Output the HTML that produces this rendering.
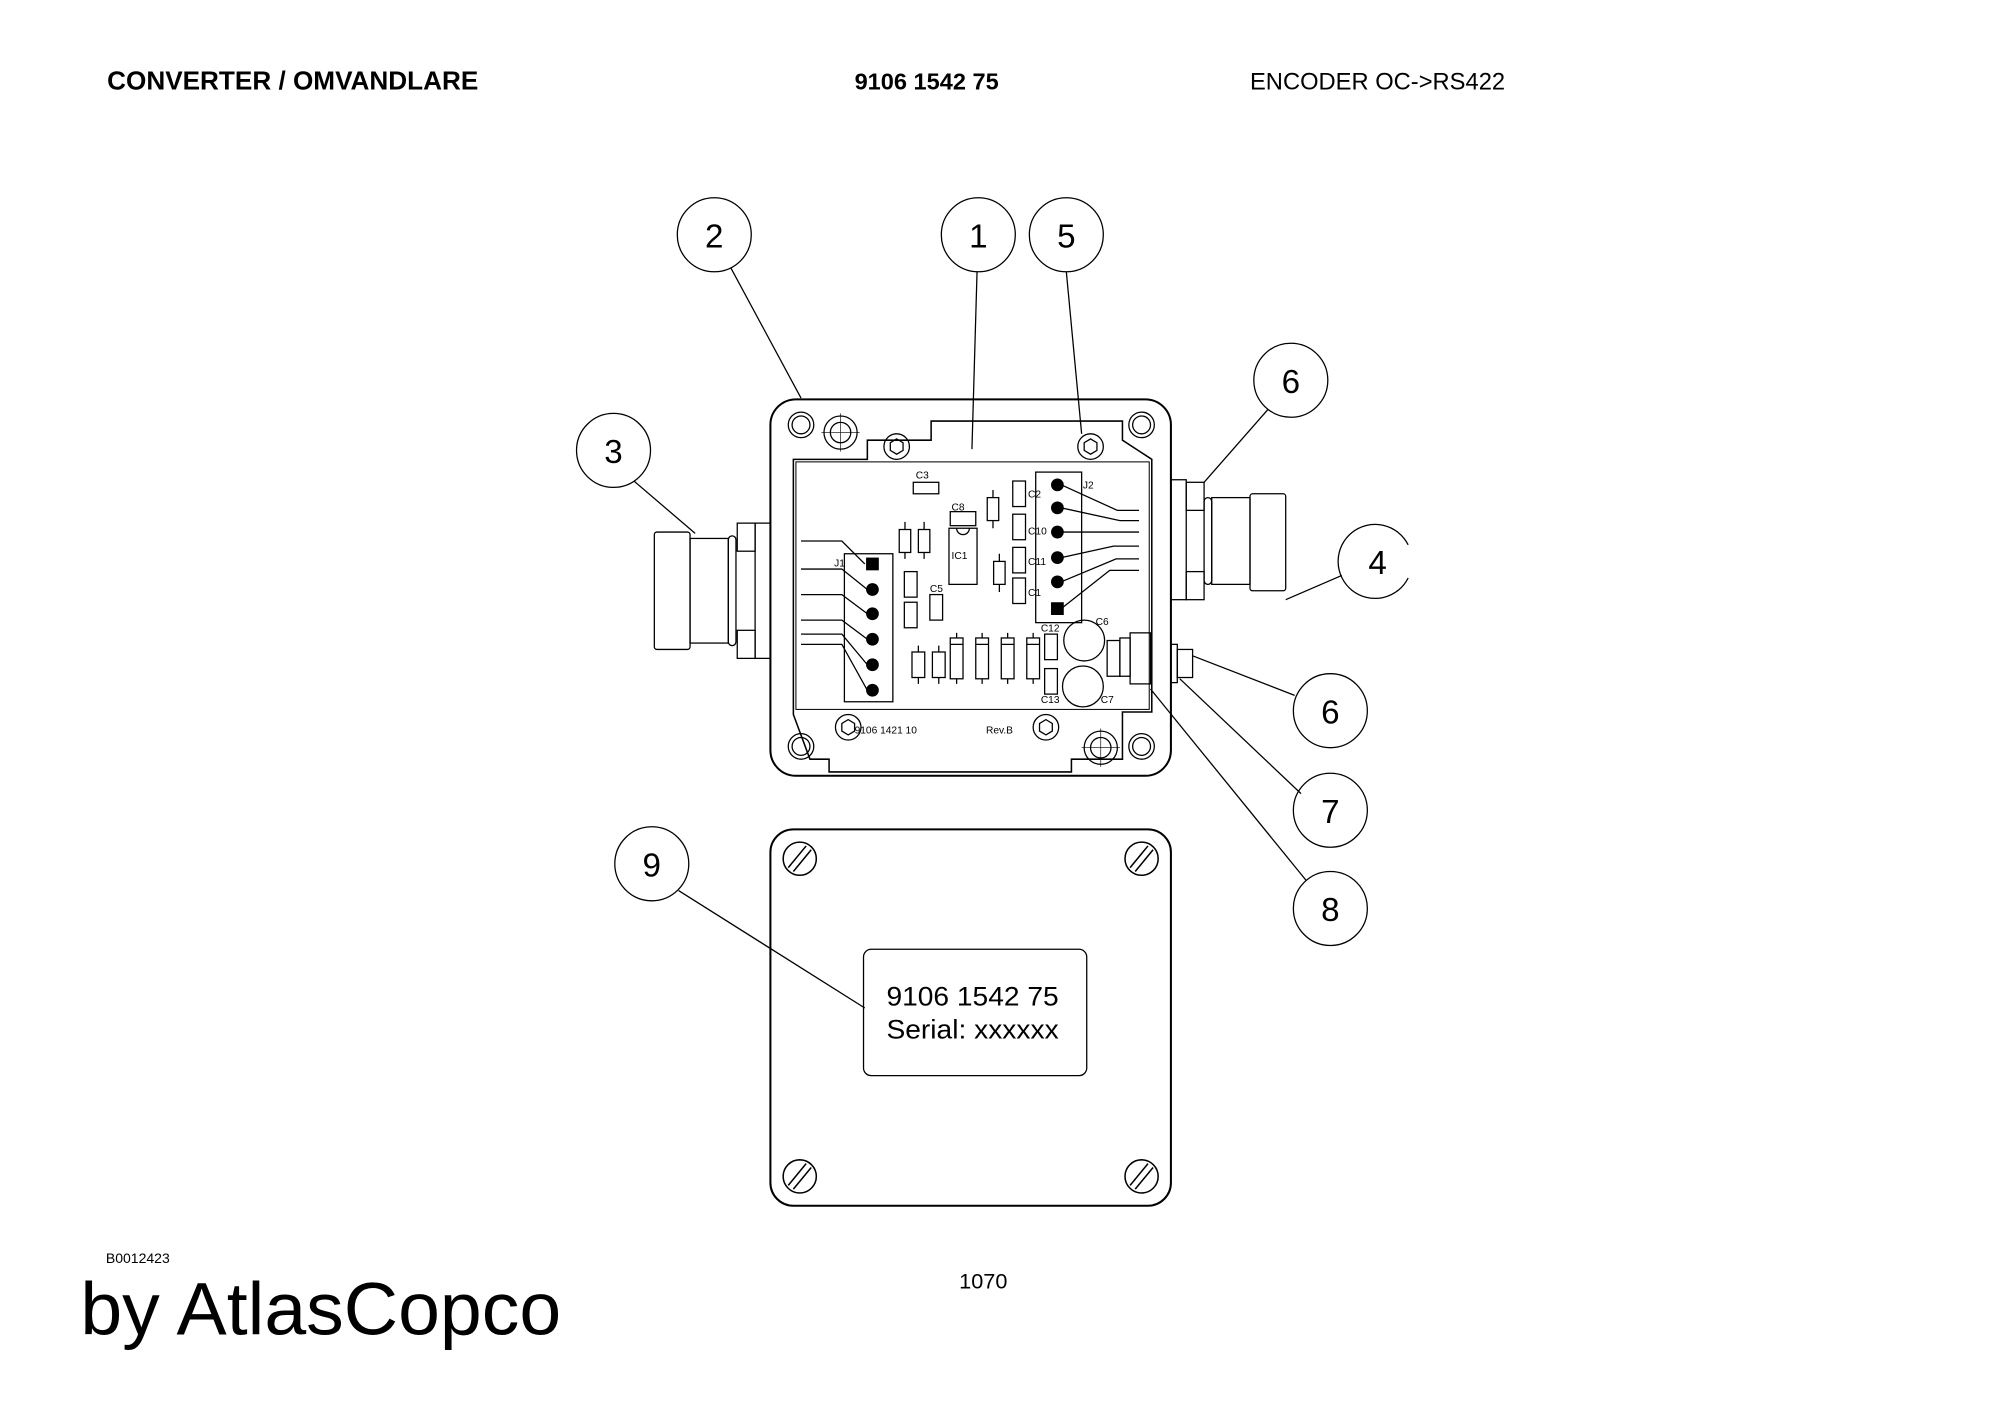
<!DOCTYPE html>
<html><head><meta charset="utf-8"><style>
html,body{margin:0;padding:0;background:#fff}
svg{display:block}
text{font-family:"Liberation Sans",sans-serif}
</style></head><body>
<svg width="2000" height="1415" viewBox="0 0 1568 1109" preserveAspectRatio="none" xmlns="http://www.w3.org/2000/svg">
<rect width="1568" height="1109" fill="#fff"/>
<text x="84" y="70" font-size="20" font-weight="bold" textLength="291" lengthAdjust="spacingAndGlyphs">CONVERTER / OMVANDLARE</text>
<text x="670" y="70" font-size="18" font-weight="bold" textLength="113" lengthAdjust="spacingAndGlyphs">9106 1542 75</text>
<text x="980" y="70" font-size="18.5" textLength="200" lengthAdjust="spacingAndGlyphs">ENCODER OC-&gt;RS422</text>
<text x="83" y="990" font-size="11">B0012423</text>
<text x="63" y="1046" font-size="58" textLength="377" lengthAdjust="spacingAndGlyphs">by AtlasCopco</text>
<text x="752" y="1010" font-size="17">1070</text>

<g fill="none" stroke="#000" stroke-width="1">
<circle cx="560" cy="184" r="29"/><circle cx="767" cy="184" r="29"/><circle cx="836" cy="184" r="29"/>
<circle cx="1012" cy="298" r="29"/><circle cx="481" cy="353" r="29"/>
<path d="M1104,427 A29,29 0 1 0 1104,453"/>
<circle cx="1043" cy="557" r="29"/><circle cx="1043" cy="635" r="29"/><circle cx="1043" cy="712" r="29"/>
<circle cx="511" cy="677" r="29"/>
<line x1="573" y1="210" x2="628" y2="312"/>
<line x1="766" y1="213" x2="762" y2="352"/>
<line x1="836" y1="213" x2="848" y2="340"/>
<line x1="994" y1="321" x2="944" y2="378"/>
<line x1="497" y1="377" x2="545" y2="418"/>
<line x1="1052" y1="451" x2="1008" y2="470"/>
<line x1="1015" y1="545" x2="935" y2="514"/>
<line x1="1020" y1="622" x2="925" y2="532"/>
<line x1="1024" y1="690" x2="902" y2="540"/>
<line x1="532" y1="698" x2="678" y2="790"/>
</g>

<g fill="none" stroke="#000" stroke-width="1.6">
<rect x="604" y="313" width="314" height="295" rx="20"/>
<path d="M622,360 L680,360 L680,345 L730,345 L730,330 L880,330 L880,345 L903,360 L903,558 L880,558 L880,595 L840,595 L840,605 L650,605 L650,595 L635,595 L622,560 Z" stroke-width="1.2"/>
<rect x="624" y="362" width="277" height="194" stroke-width="0.8"/>
</g>
<g fill="none" stroke="#000" stroke-width="1">
<circle cx="628" cy="333" r="10"/><circle cx="628" cy="333" r="7"/>
<circle cx="895" cy="333" r="10"/><circle cx="895" cy="333" r="7"/>
<circle cx="628" cy="585" r="10"/><circle cx="628" cy="585" r="7"/>
<circle cx="895" cy="585" r="10"/><circle cx="895" cy="585" r="7"/>
<circle cx="659" cy="339" r="13"/><circle cx="659" cy="339" r="8"/>
<path d="M644,339 H674 M659,324 V354" stroke-width="0.5"/>
<circle cx="863" cy="586" r="13"/><circle cx="863" cy="586" r="8"/>
<path d="M848,586 H878 M863,571 V601" stroke-width="0.5"/>
<circle cx="703" cy="350" r="10"/><polygon points="703,344 708,347 708,353 703,356 698,353 698,347"/>
<circle cx="855" cy="350" r="10"/><polygon points="855,344 860,347 860,353 855,356 850,353 850,347"/>
<circle cx="665" cy="570" r="10"/><polygon points="665,564 670,567 670,573 665,576 660,573 660,567"/>
<circle cx="820" cy="570" r="10"/><polygon points="820,564 825,567 825,573 820,576 815,573 815,567"/>

<rect x="662" y="434" width="38" height="116"/>
<path d="M628,424 H660 L678,442 M628,446 H660 L680,462 M628,466 H660 L680,481 M628,486 H660 L680,501 M628,497 H660 L680,521 M628,505 H660 L680,541"/>
<rect x="812" y="370" width="36" height="118"/>
<path d="M832,380 L876,400 H893 M832,398 L878,408 H893 M832,417 H893 M832,437 L873,428 H893 M832,456 L875,438 H893 M832,477 L870,447 H893"/>
<rect x="716" y="378" width="20" height="9"/>
<rect x="745" y="401" width="20" height="11"/>
<rect x="744" y="414" width="22" height="44"/><path d="M750,414 a5,5 0 0 0 10,0"/>
<rect x="705" y="415" width="9" height="18"/><path d="M709.5,409 V415 M709.5,433 V438"/>
<rect x="720" y="415" width="9" height="18"/><path d="M724.5,409 V415 M724.5,433 V438"/>
<rect x="709" y="448" width="10" height="20"/><rect x="709" y="472" width="10" height="20"/>
<rect x="729" y="466" width="10" height="20"/>
<rect x="774" y="390" width="9" height="18"/><path d="M778.5,384 V390 M778.5,408 V414"/>
<rect x="779" y="440" width="9" height="18"/><path d="M783.5,434 V440 M783.5,458 V464"/>
<rect x="794" y="377" width="10" height="20"/><rect x="794" y="403" width="10" height="20"/>
<rect x="794" y="429" width="10" height="20"/><rect x="794" y="453" width="10" height="20"/>
<rect x="715" y="511" width="10" height="20"/><path d="M720,506 V511 M720,531 V536"/>
<rect x="731" y="511" width="10" height="20"/><path d="M736,506 V511 M736,531 V536"/>
<rect x="745" y="500" width="10" height="32"/><path d="M750,496 V500 M750,532 V536 M745,505 H755"/>
<rect x="765" y="500" width="10" height="32"/><path d="M770,496 V500 M770,532 V536 M765,505 H775"/>
<rect x="785" y="500" width="10" height="32"/><path d="M790,496 V500 M790,532 V536 M785,505 H795"/>
<rect x="805" y="500" width="10" height="32"/><path d="M810,496 V500 M810,532 V536 M805,505 H815"/>
<rect x="819" y="497" width="10" height="20"/><rect x="819" y="524" width="10" height="20"/>
<circle cx="850" cy="502" r="16"/><circle cx="849" cy="538" r="16"/>
<rect x="868" y="502" width="10" height="28"/>
<rect x="878" y="500" width="8" height="30"/><rect x="886" y="496" width="16" height="40"/>
<rect x="918" y="376" width="12" height="94"/>
<rect x="930" y="378" width="14" height="22"/><rect x="930" y="448" width="14" height="22"/>
<rect x="944" y="390" width="6" height="68" rx="3"/>
<rect x="950" y="390" width="30" height="68"/>
<rect x="980" y="387" width="28" height="76" rx="2"/>
<rect x="918" y="505" width="5" height="30"/><rect x="923" y="509" width="12" height="22"/>
<rect x="592" y="410" width="12" height="106"/>
<rect x="578" y="410" width="14" height="22"/><rect x="578" y="494" width="14" height="22"/>
<rect x="571" y="420" width="6" height="86" rx="3"/>
<rect x="541" y="422" width="30" height="82"/>
<rect x="513" y="417" width="28" height="92" rx="2"/>
</g>
<g font-family="Liberation Mono,monospace" font-size="8">
<circle cx="684" cy="462" r="5"/><circle cx="684" cy="481" r="5"/><circle cx="684" cy="501" r="5"/>
<circle cx="684" cy="521" r="5"/><circle cx="684" cy="541" r="5"/><rect x="679" y="437" width="10" height="10"/>
<circle cx="829" cy="380" r="5"/><circle cx="829" cy="398" r="5"/><circle cx="829" cy="417" r="5"/>
<circle cx="829" cy="437" r="5"/><circle cx="829" cy="456" r="5"/><rect x="824" y="472" width="10" height="10"/>
<text x="654" y="444">J1</text><text x="849" y="383">J2</text>
<text x="718" y="375">C3</text><text x="746" y="400">C8</text><text x="746" y="438">IC1</text>
<text x="729" y="464">C5</text>
<text x="806" y="390">C2</text><text x="806" y="419">C10</text><text x="806" y="443">C11</text><text x="806" y="467">C1</text>
<text x="816" y="495">C12</text><text x="816" y="551">C13</text>
<text x="859" y="490">C6</text><text x="863" y="551">C7</text>
<text x="670" y="575">9106  1421  10</text><text x="773" y="575">Rev.B</text>
</g>

<g fill="none" stroke="#000" stroke-width="1.6">
<rect x="604" y="650" width="314" height="295" rx="18"/>
<rect x="677" y="744" width="175" height="99" rx="6" stroke-width="1"/>
</g>
<g fill="none" stroke="#000" stroke-width="1.2">
<circle cx="627" cy="673" r="13"/><path d="M618,680 L632,663 M622,683 L636,666"/>
<circle cx="895" cy="673" r="13"/><path d="M886,680 L900,663 M890,683 L904,666"/>
<circle cx="627" cy="922" r="13"/><path d="M618,929 L632,912 M622,932 L636,915"/>
<circle cx="895" cy="922" r="13"/><path d="M886,929 L900,912 M890,932 L904,915"/>
</g>
<text x="695" y="788" font-size="21" textLength="135" lengthAdjust="spacingAndGlyphs">9106 1542 75</text>
<text x="695" y="814" font-size="21" textLength="135" lengthAdjust="spacingAndGlyphs">Serial: xxxxxx</text>

<g font-family="Liberation Sans,sans-serif" font-size="26" text-anchor="middle">
<text x="560" y="194">2</text><text x="767" y="194">1</text><text x="836" y="194">5</text>
<text x="1012" y="308">6</text><text x="481" y="363">3</text><text x="1080" y="450">4</text>
<text x="1043" y="567">6</text><text x="1043" y="645">7</text><text x="1043" y="722">8</text>
<text x="511" y="687">9</text>
</g>
</svg>
</body></html>
